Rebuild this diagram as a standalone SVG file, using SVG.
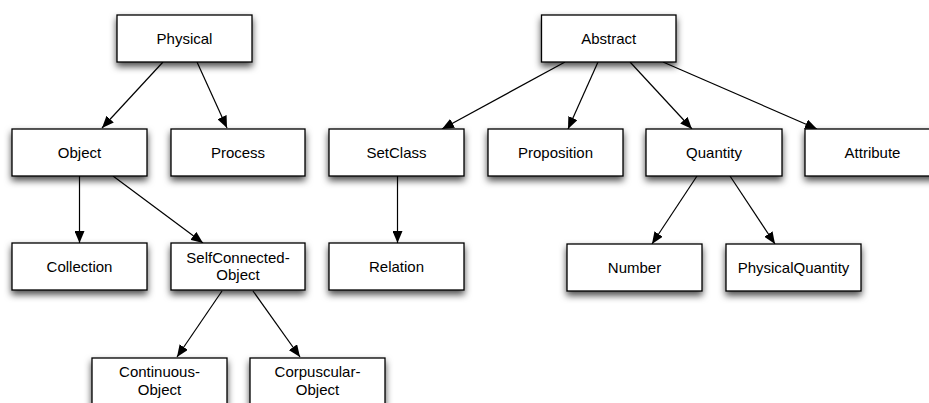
<svg xmlns="http://www.w3.org/2000/svg" width="929" height="403" viewBox="0 0 929 403">
  <style>
    .box { fill: #ffffff; stroke: #000000; stroke-width: 1.3; filter: url(#shadow); }
    .label { font-family: "Liberation Sans", Arial, sans-serif; font-size: 15px; fill: #000000; text-anchor: middle; }
    .edge { fill: none; stroke: #000000; stroke-width: 1.2; marker-end: url(#arrow); }
  </style>
  <defs>
    <filter id="shadow" x="-20%" y="-30%" width="140%" height="180%">
      <feDropShadow dx="0" dy="4" stdDeviation="3.5" flood-color="#000000" flood-opacity="0.7"/>
    </filter>
    <marker id="arrow" viewBox="0 0 12 10" refX="12" refY="5" markerWidth="12" markerHeight="10" markerUnits="userSpaceOnUse" orient="auto">
      <path d="M0,0 L12,5 L0,10 Z" fill="#000000"/>
    </marker>
  </defs>
  <rect width="929" height="403" fill="#ffffff"/>

  <g id="connectors">
    <line class="edge" x1="163" y1="62" x2="102" y2="128"/>
    <line class="edge" x1="197" y1="62" x2="227" y2="128"/>
    <line class="edge" x1="79.5" y1="176" x2="79.5" y2="243"/>
    <line class="edge" x1="113" y1="176" x2="203" y2="243"/>
    <line class="edge" x1="222" y1="291" x2="177" y2="357"/>
    <line class="edge" x1="253" y1="291" x2="300" y2="357"/>
    <line class="edge" x1="565" y1="62" x2="442" y2="129"/>
    <line class="edge" x1="598" y1="62" x2="568" y2="129"/>
    <line class="edge" x1="630" y1="62" x2="692" y2="129"/>
    <line class="edge" x1="663" y1="62" x2="817" y2="129"/>
    <line class="edge" x1="397.5" y1="176" x2="397.5" y2="243"/>
    <line class="edge" x1="697" y1="176" x2="652" y2="244"/>
    <line class="edge" x1="730" y1="176" x2="775" y2="244"/>
  </g>

  <g id="physical">
    <rect class="box" x="117" y="15" width="135" height="47"/>
    <text class="label" x="184.5" y="44">Physical</text>
  </g>
  <g id="object">
    <rect class="box" x="12" y="129" width="135" height="47"/>
    <text class="label" x="79.5" y="158">Object</text>
  </g>
  <g id="process">
    <rect class="box" x="171" y="129" width="134" height="47"/>
    <text class="label" x="238" y="158">Process</text>
  </g>
  <g id="collection">
    <rect class="box" x="12" y="243" width="135" height="47"/>
    <text class="label" x="79.5" y="272">Collection</text>
  </g>
  <g id="selfconnected-object">
    <rect class="box" x="171" y="243" width="134" height="47"/>
    <text class="label" x="238" y="263">SelfConnected-</text>
    <text class="label" x="238" y="280">Object</text>
  </g>
  <g id="continuous-object">
    <rect class="box" x="92" y="358" width="135" height="47"/>
    <text class="label" x="159.5" y="377">Continuous-</text>
    <text class="label" x="159.5" y="395">Object</text>
  </g>
  <g id="corpuscular-object">
    <rect class="box" x="250" y="358" width="135" height="47"/>
    <text class="label" x="317.5" y="377">Corpuscular-</text>
    <text class="label" x="317.5" y="395">Object</text>
  </g>
  <g id="abstract">
    <rect class="box" x="541.5" y="15" width="134.5" height="47"/>
    <text class="label" x="608.7" y="44">Abstract</text>
  </g>
  <g id="setclass">
    <rect class="box" x="329" y="129" width="135" height="47"/>
    <text class="label" x="396.5" y="158">SetClass</text>
  </g>
  <g id="proposition">
    <rect class="box" x="488" y="129" width="135" height="47"/>
    <text class="label" x="555.5" y="158">Proposition</text>
  </g>
  <g id="quantity">
    <rect class="box" x="646" y="129" width="136" height="47"/>
    <text class="label" x="714" y="158">Quantity</text>
  </g>
  <g id="attribute">
    <rect class="box" x="805" y="129" width="135" height="47"/>
    <text class="label" x="872.5" y="158">Attribute</text>
  </g>
  <g id="relation">
    <rect class="box" x="329" y="243" width="135" height="47"/>
    <text class="label" x="396.5" y="272">Relation</text>
  </g>
  <g id="number">
    <rect class="box" x="567" y="244" width="135" height="47"/>
    <text class="label" x="634.5" y="273">Number</text>
  </g>
  <g id="physicalquantity">
    <rect class="box" x="726" y="244" width="135" height="47"/>
    <text class="label" x="793.5" y="273">PhysicalQuantity</text>
  </g>
</svg>
